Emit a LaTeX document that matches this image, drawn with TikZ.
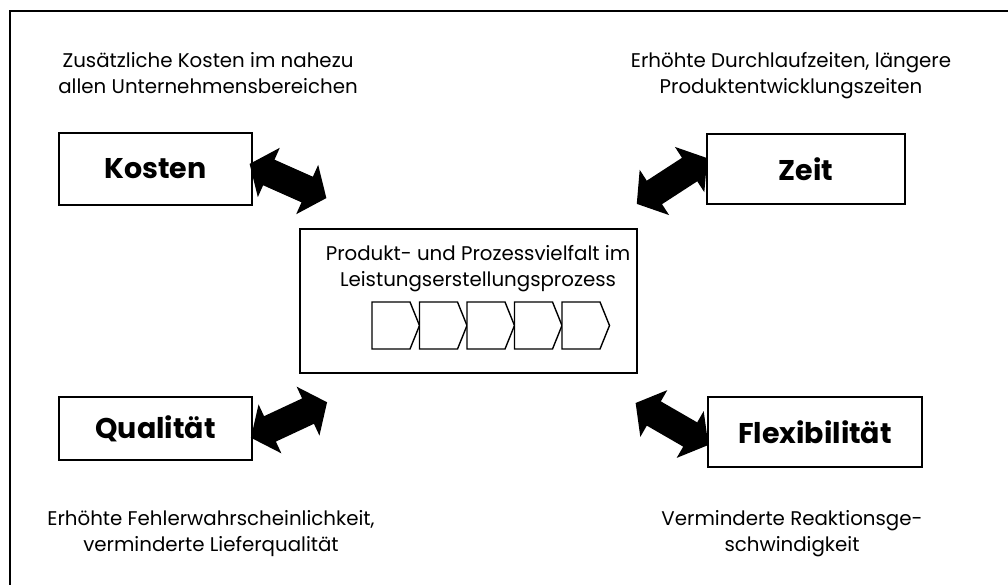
\documentclass[tikz,border=0pt]{standalone}
\usepackage{fontspec}
\setmainfont{Poppins}
\begin{document}
\begin{tikzpicture}[x=1pt,y=-1pt,
  every node/.style={inner sep=0pt, outer sep=0pt},
  box/.style={draw, line width=1.6pt, fill=white},
  title/.style={font=\fontsize{28.5}{32}\selectfont\bfseries},
  note/.style={align=center, font=\fontsize{19.8}{26.5}\selectfont},
  chev/.style={draw, line width=1.4pt, line join=miter, fill=white},
  dblarrow/.pic={\fill[black] (-42,0) -- (-21,-27) -- (-21,-14) -- (21,-14) -- (21,-27)
      -- (42,0) -- (21,27) -- (21,14) -- (-21,14) -- (-21,27) -- cycle;}
]
\useasboundingbox (0,0) rectangle (1008,585);
\fill[white] (0,0) rectangle (1008,585);

% outer frame, running off the right and bottom edges
\begin{scope}
  \clip (0,0) rectangle (1008,585);
  \draw[line width=2pt] (9.5,11) rectangle (1040,620);
\end{scope}

% the four target dimensions
\node[box, title, minimum width=193, minimum height=72] (kosten) at (155.5,169) {Kosten};
\node[box, title, minimum width=198, minimum height=70] (zeit) at (806,169) {Zeit};
\node[box, title, minimum width=193, minimum height=63] (qual) at (155.5,428.5) {Qualität};
\node[box, title, minimum width=214, minimum height=70] (flex) at (815,432) {Flexibilität};

% central box
\node[box, minimum width=337, minimum height=144] (center) at (468.5,301) {};
\node[note, anchor=north] (ctext) at (478,245) {Produkt- und Prozessvielfalt im\\Leistungserstellungsprozess};

% process chain
\foreach \i in {0,...,4}{
  \pgfmathsetmacro{\xa}{372+47.5*\i}
  \draw[chev] (\xa,302) -- ++(38,0) -- ++(9.5,23.5) -- ++(-9.5,23.5) -- ++(-38,0) -- cycle;
}

% thick double arrows between the dimensions and the centre
\pic[rotate=-24] at (288,181) {dblarrow};
\pic[rotate=33] at (672,181) {dblarrow};
\pic[rotate=25] at (289,420) {dblarrow};
\pic[rotate=-30] at (672,424) {dblarrow};

% descriptions
\node[note, anchor=north] (tl) at (208,52) {Zusätzliche Kosten im nahezu\\allen Unternehmensbereichen};
\node[note, anchor=north] (tr) at (791,52) {Erhöhte Durchlaufzeiten, längere\\Produktentwicklungszeiten};
\node[note, anchor=north] (bl) at (211,510) {Erhöhte Fehlerwahrscheinlichkeit,\\verminderte Lieferqualität};
\node[note, anchor=north] (br) at (792,510) {Verminderte Reaktionsge-\\schwindigkeit};
\end{tikzpicture}
\end{document}
